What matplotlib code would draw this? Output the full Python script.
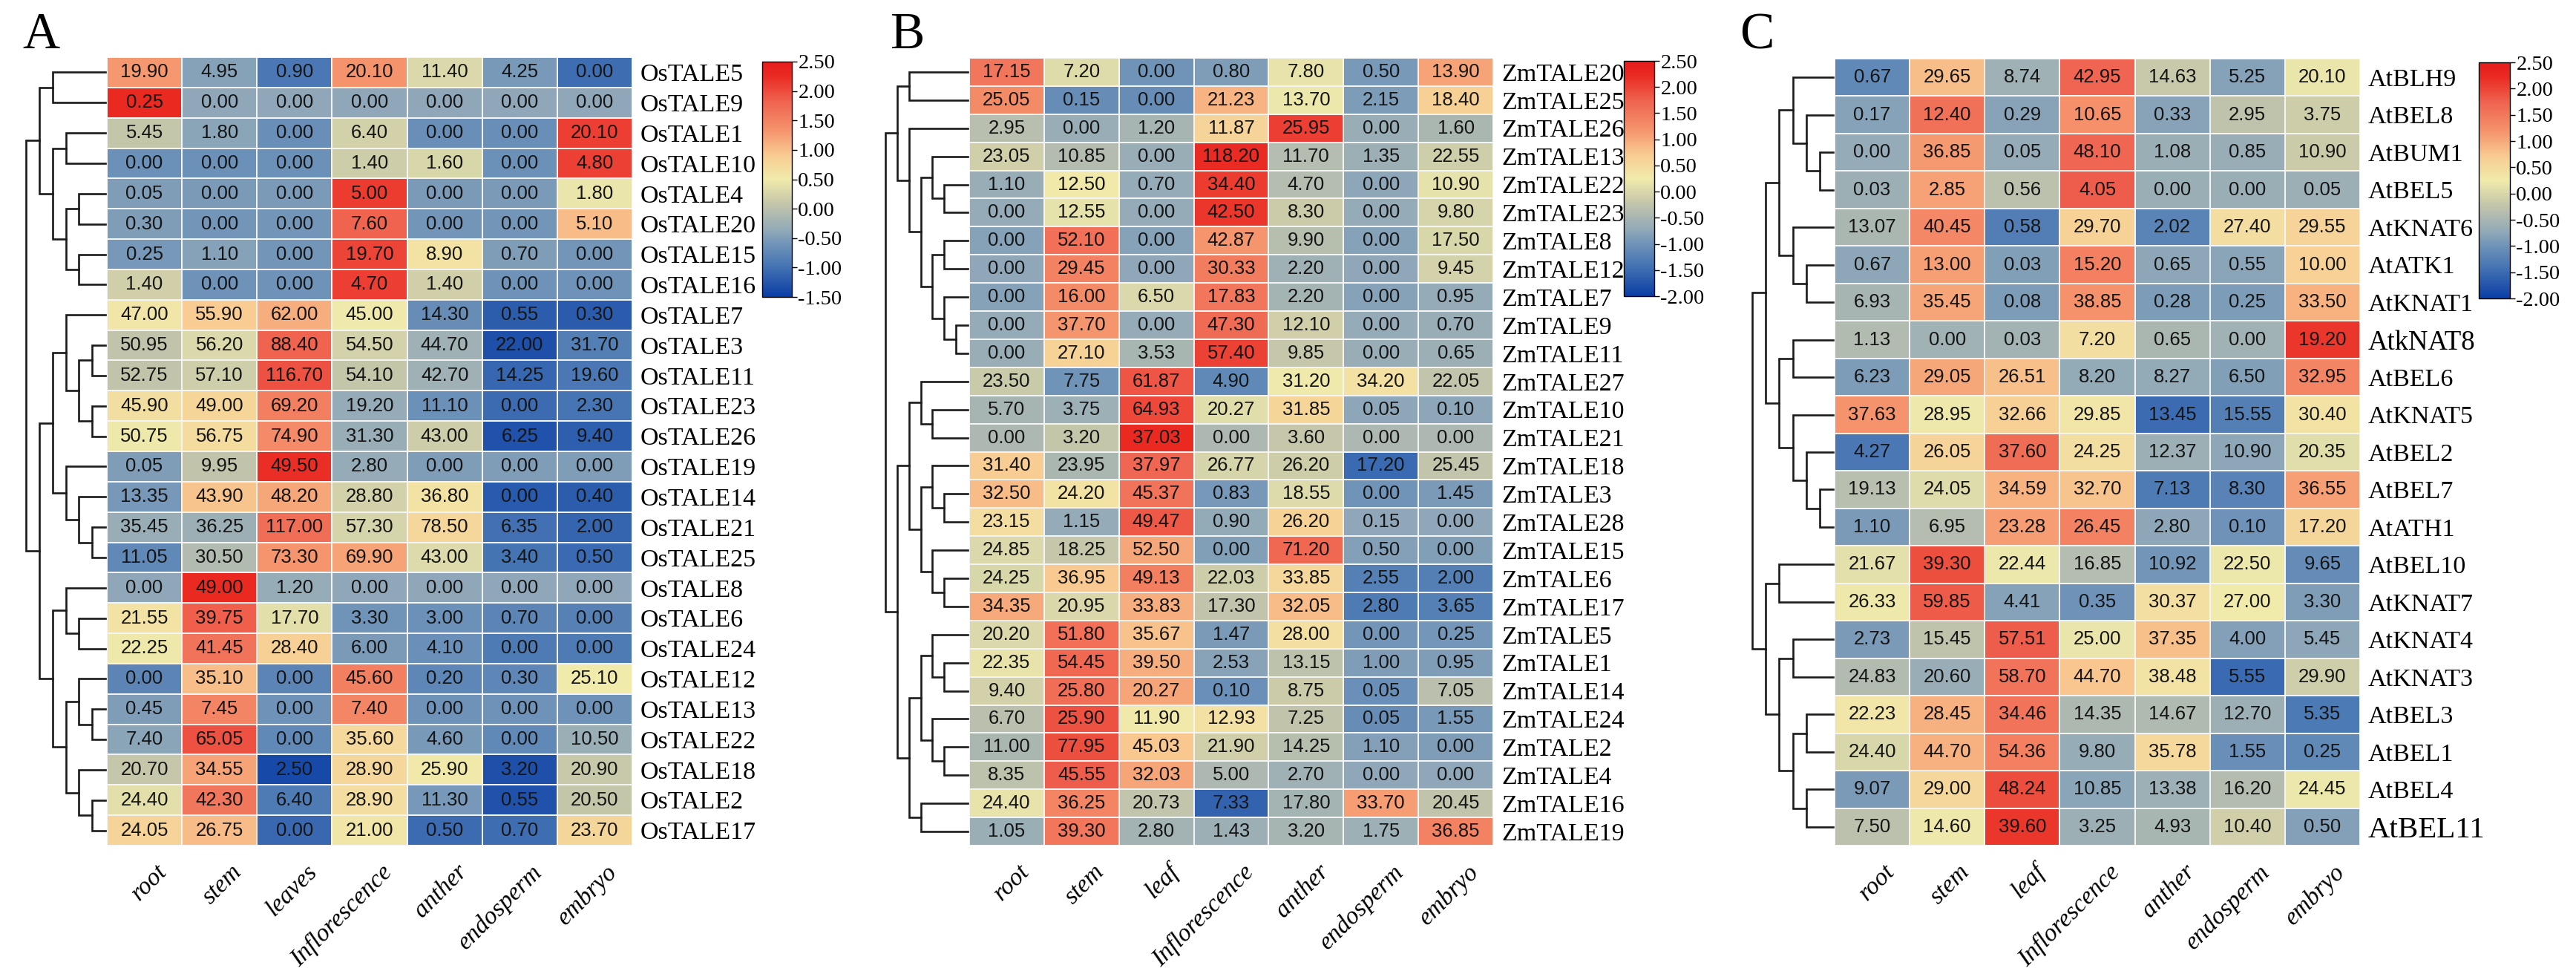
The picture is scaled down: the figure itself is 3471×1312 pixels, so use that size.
import numpy as np
import matplotlib
matplotlib.use('Agg')
import matplotlib.pyplot as plt
from matplotlib.colors import LinearSegmentedColormap
from matplotlib.transforms import offset_copy

# ---- data ----
rice_tissues = ['root', 'stem', 'leaves', 'Inflorescence', 'anther', 'endosperm', 'embryo']
other_tissues = ['root', 'stem', 'leaf', 'Inflorescence', 'anther', 'endosperm', 'embryo']

rice_genes = ['OsTALE5', 'OsTALE9', 'OsTALE1', 'OsTALE10', 'OsTALE4', 'OsTALE20', 'OsTALE15',
              'OsTALE16', 'OsTALE7', 'OsTALE3', 'OsTALE11', 'OsTALE23', 'OsTALE26', 'OsTALE19',
              'OsTALE14', 'OsTALE21', 'OsTALE25', 'OsTALE8', 'OsTALE6', 'OsTALE24', 'OsTALE12',
              'OsTALE13', 'OsTALE22', 'OsTALE18', 'OsTALE2', 'OsTALE17']
rice_expr = [
    [19.90, 4.95, 0.90, 20.10, 11.40, 4.25, 0.00],
    [0.25, 0.00, 0.00, 0.00, 0.00, 0.00, 0.00],
    [5.45, 1.80, 0.00, 6.40, 0.00, 0.00, 20.10],
    [0.00, 0.00, 0.00, 1.40, 1.60, 0.00, 4.80],
    [0.05, 0.00, 0.00, 5.00, 0.00, 0.00, 1.80],
    [0.30, 0.00, 0.00, 7.60, 0.00, 0.00, 5.10],
    [0.25, 1.10, 0.00, 19.70, 8.90, 0.70, 0.00],
    [1.40, 0.00, 0.00, 4.70, 1.40, 0.00, 0.00],
    [47.00, 55.90, 62.00, 45.00, 14.30, 0.55, 0.30],
    [50.95, 56.20, 88.40, 54.50, 44.70, 22.00, 31.70],
    [52.75, 57.10, 116.70, 54.10, 42.70, 14.25, 19.60],
    [45.90, 49.00, 69.20, 19.20, 11.10, 0.00, 2.30],
    [50.75, 56.75, 74.90, 31.30, 43.00, 6.25, 9.40],
    [0.05, 9.95, 49.50, 2.80, 0.00, 0.00, 0.00],
    [13.35, 43.90, 48.20, 28.80, 36.80, 0.00, 0.40],
    [35.45, 36.25, 117.00, 57.30, 78.50, 6.35, 2.00],
    [11.05, 30.50, 73.30, 69.90, 43.00, 3.40, 0.50],
    [0.00, 49.00, 1.20, 0.00, 0.00, 0.00, 0.00],
    [21.55, 39.75, 17.70, 3.30, 3.00, 0.70, 0.00],
    [22.25, 41.45, 28.40, 6.00, 4.10, 0.00, 0.00],
    [0.00, 35.10, 0.00, 45.60, 0.20, 0.30, 25.10],
    [0.45, 7.45, 0.00, 7.40, 0.00, 0.00, 0.00],
    [7.40, 65.05, 0.00, 35.60, 4.60, 0.00, 10.50],
    [20.70, 34.55, 2.50, 28.90, 25.90, 3.20, 20.90],
    [24.40, 42.30, 6.40, 28.90, 11.30, 0.55, 20.50],
    [24.05, 26.75, 0.00, 21.00, 0.50, 0.70, 23.70],
]
# tree: [merge level, left, right], leaves are row numbers
rice_tree = [6,
             [5, [4, 0, 1], [4, [3, 2, 3], [3, [2, 4, 5], [2, 6, 7]]]],
             [5,
              [4, [3, 8, [2, [1, 9, 10], [1, 11, 12]]], [3, 13, [2, 14, [1, 15, 16]]]],
              [4, [3, 17, [2, 18, 19]], [3, [2, 20, [1, 21, 22]], [2, 23, [1, 24, 25]]]]]]

maize_genes = ['ZmTALE20', 'ZmTALE25', 'ZmTALE26', 'ZmTALE13', 'ZmTALE22', 'ZmTALE23', 'ZmTALE8',
               'ZmTALE12', 'ZmTALE7', 'ZmTALE9', 'ZmTALE11', 'ZmTALE27', 'ZmTALE10', 'ZmTALE21',
               'ZmTALE18', 'ZmTALE3', 'ZmTALE28', 'ZmTALE15', 'ZmTALE6', 'ZmTALE17', 'ZmTALE5',
               'ZmTALE1', 'ZmTALE14', 'ZmTALE24', 'ZmTALE2', 'ZmTALE4', 'ZmTALE16', 'ZmTALE19']
maize_expr = [
    [17.15, 7.20, 0.00, 0.80, 7.80, 0.50, 13.90],
    [25.05, 0.15, 0.00, 21.23, 13.70, 2.15, 18.40],
    [2.95, 0.00, 1.20, 11.87, 25.95, 0.00, 1.60],
    [23.05, 10.85, 0.00, 118.20, 11.70, 1.35, 22.55],
    [1.10, 12.50, 0.70, 34.40, 4.70, 0.00, 10.90],
    [0.00, 12.55, 0.00, 42.50, 8.30, 0.00, 9.80],
    [0.00, 52.10, 0.00, 42.87, 9.90, 0.00, 17.50],
    [0.00, 29.45, 0.00, 30.33, 2.20, 0.00, 9.45],
    [0.00, 16.00, 6.50, 17.83, 2.20, 0.00, 0.95],
    [0.00, 37.70, 0.00, 47.30, 12.10, 0.00, 0.70],
    [0.00, 27.10, 3.53, 57.40, 9.85, 0.00, 0.65],
    [23.50, 7.75, 61.87, 4.90, 31.20, 34.20, 22.05],
    [5.70, 3.75, 64.93, 20.27, 31.85, 0.05, 0.10],
    [0.00, 3.20, 37.03, 0.00, 3.60, 0.00, 0.00],
    [31.40, 23.95, 37.97, 26.77, 26.20, 17.20, 25.45],
    [32.50, 24.20, 45.37, 0.83, 18.55, 0.00, 1.45],
    [23.15, 1.15, 49.47, 0.90, 26.20, 0.15, 0.00],
    [24.85, 18.25, 52.50, 0.00, 71.20, 0.50, 0.00],
    [24.25, 36.95, 49.13, 22.03, 33.85, 2.55, 2.00],
    [34.35, 20.95, 33.83, 17.30, 32.05, 2.80, 3.65],
    [20.20, 51.80, 35.67, 1.47, 28.00, 0.00, 0.25],
    [22.35, 54.45, 39.50, 2.53, 13.15, 1.00, 0.95],
    [9.40, 25.80, 20.27, 0.10, 8.75, 0.05, 7.05],
    [6.70, 25.90, 11.90, 12.93, 7.25, 0.05, 1.55],
    [11.00, 77.95, 45.03, 21.90, 14.25, 1.10, 0.00],
    [8.35, 45.55, 32.03, 5.00, 2.70, 0.00, 0.00],
    [24.40, 36.25, 20.73, 7.33, 17.80, 33.70, 20.45],
    [1.05, 39.30, 2.80, 1.43, 3.20, 1.75, 36.85],
]
maize_tree = [7,
              [6, [5, 0, 1], [5, 2, [4, [3, 3, [2, 4, 5]], [3, [2, 6, 7], [2, 8, [1, 9, 10]]]]]],
              [6,
               [5, [4, 11, [3, 12, 13]], [4, [3, 14, [2, 15, 16]], [3, 17, [2, 18, 19]]]],
               [5, [4, [3, 20, [2, 21, 22]], [3, 23, [2, 24, 25]]], [4, 26, 27]]]]

arab_genes = ['AtBLH9', 'AtBEL8', 'AtBUM1', 'AtBEL5', 'AtKNAT6', 'AtATK1', 'AtKNAT1', 'AtkNAT8',
              'AtBEL6', 'AtKNAT5', 'AtBEL2', 'AtBEL7', 'AtATH1', 'AtBEL10', 'AtKNAT7', 'AtKNAT4',
              'AtKNAT3', 'AtBEL3', 'AtBEL1', 'AtBEL4', 'AtBEL11']
arab_expr = [
    [0.67, 29.65, 8.74, 42.95, 14.63, 5.25, 20.10],
    [0.17, 12.40, 0.29, 10.65, 0.33, 2.95, 3.75],
    [0.00, 36.85, 0.05, 48.10, 1.08, 0.85, 10.90],
    [0.03, 2.85, 0.56, 4.05, 0.00, 0.00, 0.05],
    [13.07, 40.45, 0.58, 29.70, 2.02, 27.40, 29.55],
    [0.67, 13.00, 0.03, 15.20, 0.65, 0.55, 10.00],
    [6.93, 35.45, 0.08, 38.85, 0.28, 0.25, 33.50],
    [1.13, 0.00, 0.03, 7.20, 0.65, 0.00, 19.20],
    [6.23, 29.05, 26.51, 8.20, 8.27, 6.50, 32.95],
    [37.63, 28.95, 32.66, 29.85, 13.45, 15.55, 30.40],
    [4.27, 26.05, 37.60, 24.25, 12.37, 10.90, 20.35],
    [19.13, 24.05, 34.59, 32.70, 7.13, 8.30, 36.55],
    [1.10, 6.95, 23.28, 26.45, 2.80, 0.10, 17.20],
    [21.67, 39.30, 22.44, 16.85, 10.92, 22.50, 9.65],
    [26.33, 59.85, 4.41, 0.35, 30.37, 27.00, 3.30],
    [2.73, 15.45, 57.51, 25.00, 37.35, 4.00, 5.45],
    [24.83, 20.60, 58.70, 44.70, 38.48, 5.55, 29.90],
    [22.23, 28.45, 34.46, 14.35, 14.67, 12.70, 5.35],
    [24.40, 44.70, 54.36, 9.80, 35.78, 1.55, 0.25],
    [9.07, 29.00, 48.24, 10.85, 13.38, 16.20, 24.45],
    [7.50, 14.60, 39.60, 3.25, 4.93, 10.40, 0.50],
]
arab_tree = [6,
             [5,
              [4, [3, 0, [2, 1, [1, 2, 3]]], [3, 4, [2, 5, 6]]],
              [4, [3, 7, 8], [3, 9, [2, 10, [1, 11, 12]]]]],
             [5, [4, 13, 14], [4, [3, 15, 16], [3, [2, 17, 18], [2, 19, 20]]]]]

# ---- style ----
W, H = 3471, 1312
SERIF = ['Liberation Serif', 'DejaVu Serif']
SANS = ['Liberation Sans', 'DejaVu Sans']

cmap = LinearSegmentedColormap.from_list('bgyr', [
    (0.00, '#0a3ea6'), (0.14, '#4a78b4'), (0.22, '#6e92b8'), (0.28, '#90a8b8'),
    (0.40, '#c6c7aa'), (0.50, '#f0ebab'), (0.60, '#f8cc92'), (0.71, '#f5936c'),
    (0.83, '#ef6450'), (0.94, '#ea2a22'), (1.00, '#e61c1c')])

fig = plt.figure(figsize=(W / 100, H / 100), dpi=100)


def px_axes(x0, y0, x1, y1):
    return fig.add_axes([x0 / W, 1 - y1 / H, (x1 - x0) / W, (y1 - y0) / H])


def draw_tree(ax, node):
    if isinstance(node, int):
        return node + 0.5, 0
    h, a, b = node
    ya, la = draw_tree(ax, a)
    yb, lb = draw_tree(ax, b)
    ax.plot([la, h, h, lb], [ya, ya, yb, yb], color='#1a1a1a', lw=1.9,
            solid_joinstyle='miter', clip_on=False)
    return (ya + yb) / 2, h


def panel(letter, genes, expr, tissues, tree, vmin, vmax, box, cbox, letter_x,
          tree_left, label_sizes=None):
    vals = np.array(expr)
    z = (vals - vals.mean(axis=1, keepdims=True)) / vals.std(axis=1, ddof=1, keepdims=True)
    n, m = vals.shape
    x0, y0, x1, y1 = box

    ax = px_axes(x0, y0, x1, y1)
    mesh = ax.pcolormesh(np.clip(z, vmin, vmax), cmap=cmap, vmin=vmin, vmax=vmax,
                         edgecolors='#f4f4f4', linewidth=1.4)
    ax.set_xlim(0, m)
    ax.set_ylim(n, 0)
    for i in range(n):
        for j in range(m):
            ax.text(j + 0.5, i + 0.5, '%.2f' % vals[i, j], ha='center', va='center',
                    fontsize=18.5, family=SANS, color='#151515')
    for s in ax.spines.values():
        s.set_visible(False)
    ax.yaxis.tick_right()
    ax.set_yticks(np.arange(n) + 0.5)
    ax.set_yticklabels(genes, family=SERIF, fontsize=24.5)
    if label_sizes:
        for t in ax.get_yticklabels():
            if t.get_text() in label_sizes:
                t.set_fontsize(label_sizes[t.get_text()])
    ax.tick_params(axis='y', length=0, pad=8)
    ax.set_xticks([])
    tr = offset_copy(ax.transData, fig=fig, x=15, y=-20, units='dots')
    for j, name in enumerate(tissues):
        ax.text(j + 0.5, n, name, transform=tr, rotation=45, rotation_mode='anchor',
                ha='right', va='top', family=SERIF, style='italic', fontsize=24)

    dax = px_axes(tree_left, y0, x0 - 2, y1)
    draw_tree(dax, tree)
    dax.set_xlim(tree[0], 0)
    dax.set_ylim(n, 0)
    dax.axis('off')

    cax = px_axes(*cbox)
    cb = fig.colorbar(mesh, cax=cax, ticks=np.arange(vmin, vmax + 0.01, 0.5))
    cb.ax.set_yticklabels(['%.2f' % t for t in np.arange(vmin, vmax + 0.01, 0.5)],
                          family=SERIF, fontsize=20.5)
    cb.ax.tick_params(length=5, width=1, pad=1)
    cb.outline.set_linewidth(1.0)

    fig.text(letter_x / W, 1 - 65 / H, letter, family=SERIF, fontsize=50, va='baseline')


panel('A', rice_genes, rice_expr, rice_tissues, rice_tree, -1.5, 2.5,
      (144, 77, 852, 1139), (1027, 83, 1067, 400), 30, 35)
panel('B', maize_genes, maize_expr, other_tissues, maize_tree, -2.0, 2.5,
      (1306, 78, 2012, 1139), (2188, 82, 2229, 399), 1200, 1193)
panel('C', arab_genes, arab_expr, other_tissues, arab_tree, -2.0, 2.5,
      (2472, 79, 3180, 1139), (3340, 84, 3382, 402), 2344, 2361,
      label_sizes={'AtkNAT8': 26.5, 'AtBEL11': 29.5})

fig.savefig('out.png', dpi=100, facecolor='white')
